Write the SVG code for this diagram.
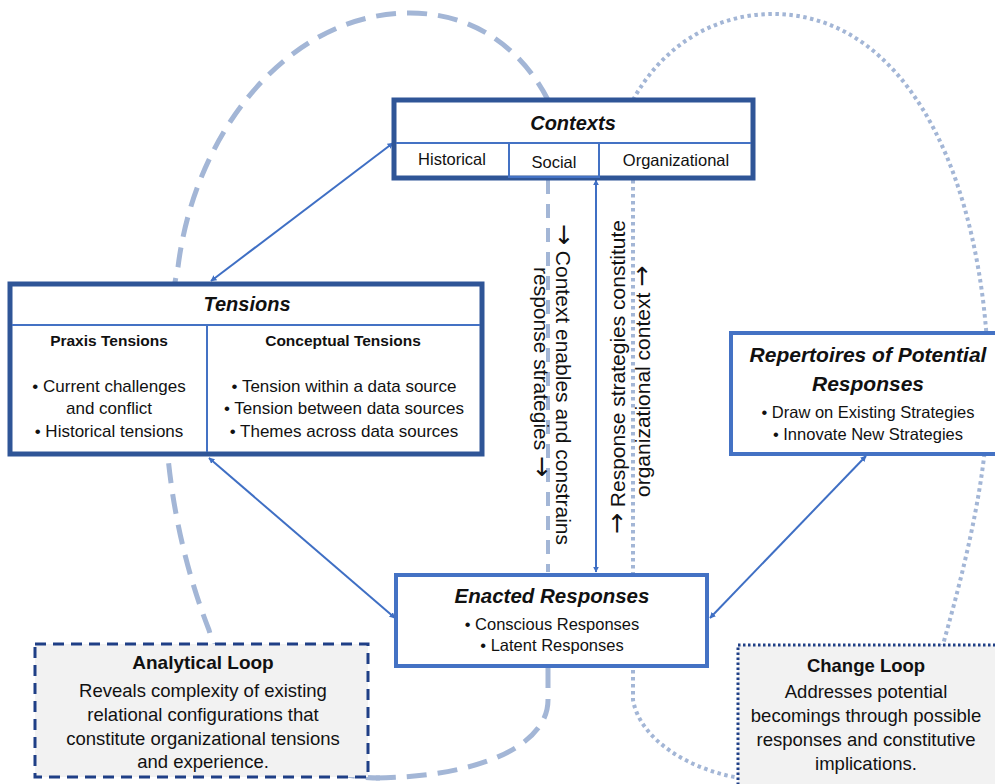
<svg xmlns="http://www.w3.org/2000/svg" width="995" height="784" viewBox="0 0 995 784">
<defs>
<marker id="ah" viewBox="0 0 10 10" refX="9" refY="5" markerWidth="6" markerHeight="6" orient="auto-start-reverse" markerUnits="userSpaceOnUse">
<path d="M0,0 L10,5 L0,10 z" fill="#3f6fc4"/>
</marker>
<style>
text{font-family:"Liberation Sans","DejaVu Sans",Arial,sans-serif;fill:#111;}
.t{font-weight:bold;font-style:italic;font-size:20px;text-anchor:middle;}
.h{font-weight:bold;font-size:15.5px;text-anchor:middle;}
.b{font-size:17px;text-anchor:middle;}
.c{font-size:16.5px;text-anchor:middle;}
.lt{font-weight:bold;font-size:18.5px;text-anchor:middle;}
.lb{font-size:18.5px;text-anchor:middle;}
.rot{font-size:21px;}
.ar{font-family:"DejaVu Sans",sans-serif;font-size:25px;}
.dark{fill:#fff;stroke:#2f5597;stroke-width:5;}
.mid{fill:#fff;stroke:#4472c4;stroke-width:4;}
.div{stroke:#4472c4;stroke-width:2;fill:none;}
.loopA{fill:none;stroke:#a3b6d6;stroke-width:5;stroke-dasharray:20 11;}
.loopB{fill:none;stroke:#a3b6d6;stroke-width:4;stroke-dasharray:3.5 3.5;}
.conn{stroke:#3f6fc4;stroke-width:2;fill:none;marker-start:url(#ah);marker-end:url(#ah);}
</style>
</defs>
<rect width="995" height="784" fill="#fff"/>

<g id="loops">
<path class="loopA" d="M548,100 C525,55 480,13 410,13 C290,13 195,130 178,267 C150,400 170,530 209,630 C235,720 290,778 380,778"/>
<path class="loopA" style="stroke-width:4;stroke-dasharray:14 10" d="M548,180 L548,572"/>
<path class="loopA" d="M548,668 L548,700 C548,745 480,778 370,778"/>
<path class="loopB" d="M633,100 C660,50 710,14 773,14 C880,14 960,120 983,300 C995,400 990,480 942,648"/>
<path class="loopB" d="M633,180 L633,700 C640,740 690,770 740,778"/>
</g>

<g id="connectors">
<line class="conn" x1="393" y1="143" x2="211" y2="281"/>
<line class="conn" x1="209" y1="458" x2="395" y2="618"/>
<line class="conn" x1="866" y1="456" x2="710" y2="618"/>
<line class="conn" x1="596" y1="180" x2="596" y2="572"/>
</g>

<g id="edge-labels">
<text class="rot" transform="translate(556,224) rotate(90)"><tspan class="ar">→</tspan> Context enables and constrains</text>
<text class="rot" transform="translate(534,267) rotate(90)">response strategies <tspan class="ar">→</tspan></text>
<text class="rot" transform="translate(625,534) rotate(-90)"><tspan class="ar">→</tspan> Response strategies constitute</text>
<text class="rot" transform="translate(650,497) rotate(-90)">organizational context <tspan class="ar">→</tspan></text>
</g>

<g id="contexts">
<rect class="dark" x="394" y="100" width="359" height="78"/>
<line class="div" x1="396" y1="143" x2="751" y2="143"/>
<rect class="div" x="509" y="143" width="90" height="34"/>
<text class="t" x="573" y="130">Contexts</text>
<text class="c" x="452" y="165">Historical</text>
<text class="c" x="554" y="168">Social</text>
<text class="c" x="676" y="166">Organizational</text>
</g>

<g id="tensions">
<rect class="dark" x="10" y="284" width="472" height="170"/>
<line class="div" x1="12" y1="325" x2="480" y2="325"/>
<line class="div" x1="207" y1="325" x2="207" y2="452"/>
<text class="t" x="247" y="311">Tensions</text>
<text class="h" x="109" y="346">Praxis Tensions</text>
<text class="h" x="343" y="346">Conceptual Tensions</text>
<text class="b" x="109" y="392">• Current challenges</text>
<text class="b" x="109" y="414">and conflict</text>
<text class="b" x="109" y="437">• Historical tensions</text>
<text class="b" x="344" y="392">• Tension within a data source</text>
<text class="b" x="344" y="414">• Tension between data sources</text>
<text class="b" x="344" y="437">• Themes across data sources</text>
</g>

<g id="repertoires">
<rect class="mid" x="731" y="333" width="280" height="121"/>
<text class="t" x="868" y="362" style="font-size:21px">Repertoires of Potential</text>
<text class="t" x="868" y="391" style="font-size:21px">Responses</text>
<text class="c" x="868" y="418">• Draw on Existing Strategies</text>
<text class="c" x="868" y="440">• Innovate New Strategies</text>
</g>

<g id="enacted">
<rect class="mid" x="396" y="575" width="311" height="91"/>
<text class="t" x="552" y="603" style="font-size:20.5px">Enacted Responses</text>
<text class="c" x="552" y="630">• Conscious Responses</text>
<text class="c" x="552" y="651">• Latent Responses</text>
</g>

<g id="analytical-loop">
<rect x="35" y="644" width="333" height="133" fill="#f2f2f2" stroke="#1f3f86" stroke-width="3" stroke-dasharray="11 7"/>
<text class="lt" x="203" y="669" style="font-size:19px">Analytical Loop</text>
<text class="lb" x="203" y="697">Reveals complexity of existing</text>
<text class="lb" x="203" y="721">relational configurations that</text>
<text class="lb" x="203" y="745">constitute organizational tensions</text>
<text class="lb" x="203" y="768">and experience.</text>
</g>

<g id="change-loop">
<rect x="738" y="645" width="270" height="145" fill="#f2f2f2" stroke="#1f3f86" stroke-width="3" stroke-dasharray="2.5 2.5"/>
<text class="lt" x="866" y="672">Change Loop</text>
<text class="lb" x="866" y="698">Addresses potential</text>
<text class="lb" x="866" y="722">becomings through possible</text>
<text class="lb" x="866" y="746">responses and constitutive</text>
<text class="lb" x="866" y="770">implications.</text>
</g>
</svg>
